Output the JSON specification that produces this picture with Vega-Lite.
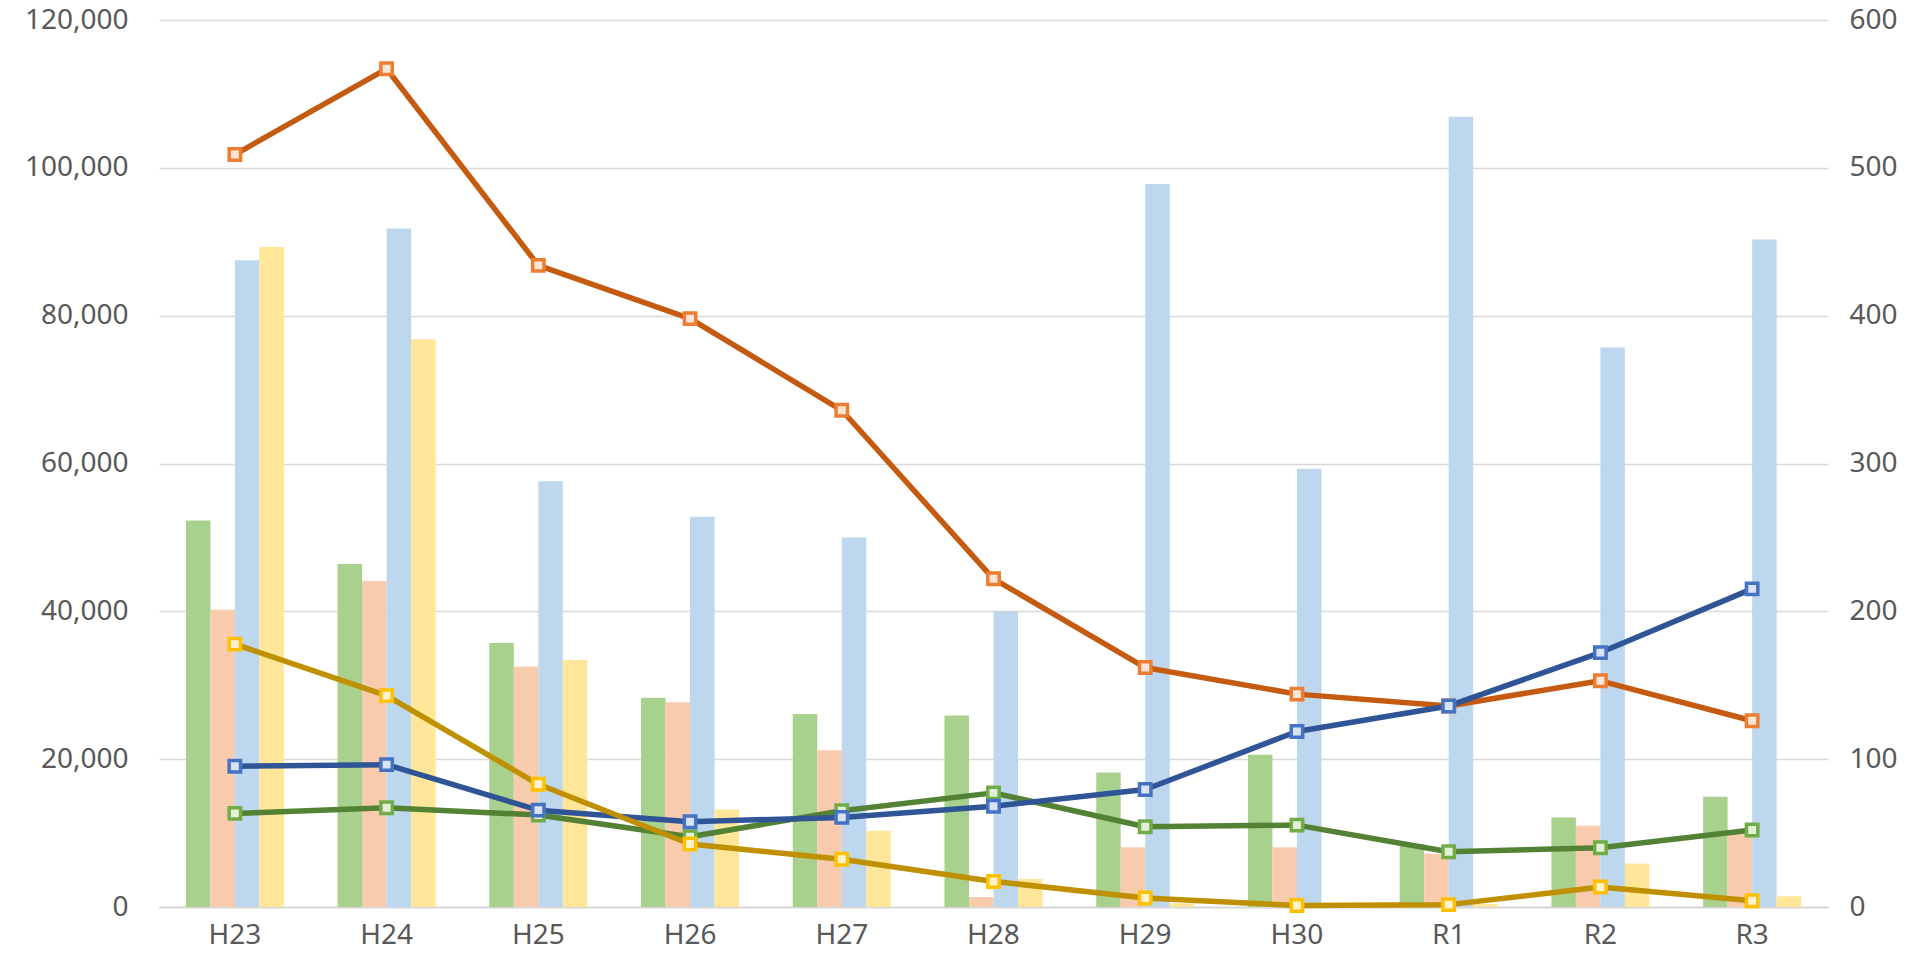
{
  "$schema": "https://vega.github.io/schema/vega-lite/v6.json",
  "autosize": "none",
  "width": 1669,
  "height": 887,
  "padding": {"left": 159, "top": 20, "right": 103, "bottom": 46},
  "background": "#ffffff",
  "config": {
    "view": {"stroke": null},
    "axis": {"labelFont": "Noto Sans", "labelFontSize": 28, "labelColor": "#595959", "ticks": false, "tickSize": 0, "title": null}
  },
  "datasets": {
    "bars": [
      {"cat": "H23", "s": "s1", "v": 52300}, {"cat": "H23", "s": "s2", "v": 40200}, {"cat": "H23", "s": "s3", "v": 87500}, {"cat": "H23", "s": "s4", "v": 89300},
      {"cat": "H24", "s": "s1", "v": 46400}, {"cat": "H24", "s": "s2", "v": 44100}, {"cat": "H24", "s": "s3", "v": 91800}, {"cat": "H24", "s": "s4", "v": 76800},
      {"cat": "H25", "s": "s1", "v": 35700}, {"cat": "H25", "s": "s2", "v": 32500}, {"cat": "H25", "s": "s3", "v": 57600}, {"cat": "H25", "s": "s4", "v": 33400},
      {"cat": "H26", "s": "s1", "v": 28300}, {"cat": "H26", "s": "s2", "v": 27700}, {"cat": "H26", "s": "s3", "v": 52800}, {"cat": "H26", "s": "s4", "v": 13200},
      {"cat": "H27", "s": "s1", "v": 26100}, {"cat": "H27", "s": "s2", "v": 21200}, {"cat": "H27", "s": "s3", "v": 50000}, {"cat": "H27", "s": "s4", "v": 10300},
      {"cat": "H28", "s": "s1", "v": 25900}, {"cat": "H28", "s": "s2", "v": 1350}, {"cat": "H28", "s": "s3", "v": 40000}, {"cat": "H28", "s": "s4", "v": 3800},
      {"cat": "H29", "s": "s1", "v": 18200}, {"cat": "H29", "s": "s2", "v": 8100}, {"cat": "H29", "s": "s3", "v": 97800}, {"cat": "H29", "s": "s4", "v": 500},
      {"cat": "H30", "s": "s1", "v": 20600}, {"cat": "H30", "s": "s2", "v": 8100}, {"cat": "H30", "s": "s3", "v": 59300}, {"cat": "H30", "s": "s4", "v": 200},
      {"cat": "R1", "s": "s1", "v": 8500}, {"cat": "R1", "s": "s2", "v": 7200}, {"cat": "R1", "s": "s3", "v": 106900}, {"cat": "R1", "s": "s4", "v": 400},
      {"cat": "R2", "s": "s1", "v": 12100}, {"cat": "R2", "s": "s2", "v": 11000}, {"cat": "R2", "s": "s3", "v": 75700}, {"cat": "R2", "s": "s4", "v": 5900},
      {"cat": "R3", "s": "s1", "v": 14900}, {"cat": "R3", "s": "s2", "v": 10000}, {"cat": "R3", "s": "s3", "v": 90300}, {"cat": "R3", "s": "s4", "v": 1450}
    ],
    "lines": [
      {"cat": "H23", "s": "l1", "v": 509}, {"cat": "H24", "s": "l1", "v": 567}, {"cat": "H25", "s": "l1", "v": 434}, {"cat": "H26", "s": "l1", "v": 398},
      {"cat": "H27", "s": "l1", "v": 336}, {"cat": "H28", "s": "l1", "v": 222}, {"cat": "H29", "s": "l1", "v": 162}, {"cat": "H30", "s": "l1", "v": 144},
      {"cat": "R1", "s": "l1", "v": 136}, {"cat": "R2", "s": "l1", "v": 153}, {"cat": "R3", "s": "l1", "v": 126},
      {"cat": "H23", "s": "l2", "v": 63.3}, {"cat": "H24", "s": "l2", "v": 67.1}, {"cat": "H25", "s": "l2", "v": 62.2}, {"cat": "H26", "s": "l2", "v": 47.5},
      {"cat": "H27", "s": "l2", "v": 65.1}, {"cat": "H28", "s": "l2", "v": 77.2}, {"cat": "H29", "s": "l2", "v": 54.3}, {"cat": "H30", "s": "l2", "v": 55.4},
      {"cat": "R1", "s": "l2", "v": 37.4}, {"cat": "R2", "s": "l2", "v": 40.1}, {"cat": "R3", "s": "l2", "v": 52.1},
      {"cat": "H23", "s": "l3", "v": 95.2}, {"cat": "H24", "s": "l3", "v": 96.3}, {"cat": "H25", "s": "l3", "v": 65.5}, {"cat": "H26", "s": "l3", "v": 57.7},
      {"cat": "H27", "s": "l3", "v": 60.6}, {"cat": "H28", "s": "l3", "v": 68.2}, {"cat": "H29", "s": "l3", "v": 79.5}, {"cat": "H30", "s": "l3", "v": 118.7},
      {"cat": "R1", "s": "l3", "v": 136.0}, {"cat": "R2", "s": "l3", "v": 172.1}, {"cat": "R3", "s": "l3", "v": 215.2},
      {"cat": "H23", "s": "l4", "v": 177.8}, {"cat": "H24", "s": "l4", "v": 143.0}, {"cat": "H25", "s": "l4", "v": 83.0}, {"cat": "H26", "s": "l4", "v": 42.6},
      {"cat": "H27", "s": "l4", "v": 32.3}, {"cat": "H28", "s": "l4", "v": 17.3}, {"cat": "H29", "s": "l4", "v": 6.1}, {"cat": "H30", "s": "l4", "v": 1.0},
      {"cat": "R1", "s": "l4", "v": 1.6}, {"cat": "R2", "s": "l4", "v": 13.5}, {"cat": "R3", "s": "l4", "v": 4.2}
    ]
  },
  "encoding": {
    "x": {
      "field": "cat", "type": "nominal",
      "sort": ["H23", "H24", "H25", "H26", "H27", "H28", "H29", "H30", "R1", "R2", "R3"],
      "scale": {"paddingInner": 0.354, "paddingOuter": 0.177},
      "axis": {"labelAngle": 0, "labelPadding": 14, "domain": true, "domainColor": "#d9d9d9", "domainWidth": 2, "grid": false}
    }
  },
  "layer": [
    {
      "data": {"name": "bars"},
      "mark": {"type": "bar"},
      "encoding": {
        "xOffset": {"field": "s", "type": "nominal", "sort": ["s1", "s2", "s3", "s4"], "scale": {"paddingInner": 0, "paddingOuter": 0}},
        "y": {
          "field": "v", "type": "quantitative",
          "scale": {"domain": [0, 120000], "nice": false},
          "axis": {"orient": "left", "values": [0, 20000, 40000, 60000, 80000, 100000, 120000], "format": ",.0f", "domain": false, "grid": true, "gridColor": "#d9d9d9", "gridWidth": 1.6, "labelPadding": 31}
        },
        "color": {
          "field": "s", "type": "nominal",
          "scale": {"domain": ["s1", "s2", "s3", "s4"], "range": ["#A9D18E", "#F8CBAD", "#BDD7EE", "#FFE699"]},
          "legend": null
        }
      }
    },
    {
      "data": {"name": "lines"},
      "encoding": {
        "y": {
          "field": "v", "type": "quantitative",
          "scale": {"domain": [0, 600], "nice": false},
          "axis": {"orient": "right", "values": [0, 100, 200, 300, 400, 500, 600], "format": "d", "domain": false, "grid": false, "labelPadding": 21}
        }
      },
      "layer": [
        {
          "mark": {"type": "line", "strokeWidth": 5.5, "strokeJoin": "round", "strokeCap": "round"},
          "encoding": {
            "color": {
              "field": "s", "type": "nominal",
              "scale": {"domain": ["l1", "l2", "l3", "l4"], "range": ["#C55A11", "#548235", "#2F5597", "#BF9000"]},
              "legend": null
            }
          }
        },
        {
          "mark": {"type": "point", "shape": "square", "size": 130, "strokeWidth": 3.5, "opacity": 1},
          "encoding": {
            "fill": {
              "field": "s", "type": "nominal",
              "scale": {"domain": ["l1", "l2", "l3", "l4"], "range": ["#FBE5D6", "#E2F0D9", "#DAE3F3", "#FFF2CC"]},
              "legend": null
            },
            "stroke": {
              "field": "s", "type": "nominal",
              "scale": {"domain": ["l1", "l2", "l3", "l4"], "range": ["#ED7D31", "#70AD47", "#4472C4", "#FFC000"]},
              "legend": null
            }
          }
        }
      ]
    }
  ],
  "resolve": {"scale": {"y": "independent", "color": "independent", "fill": "independent", "stroke": "independent"}}
}
